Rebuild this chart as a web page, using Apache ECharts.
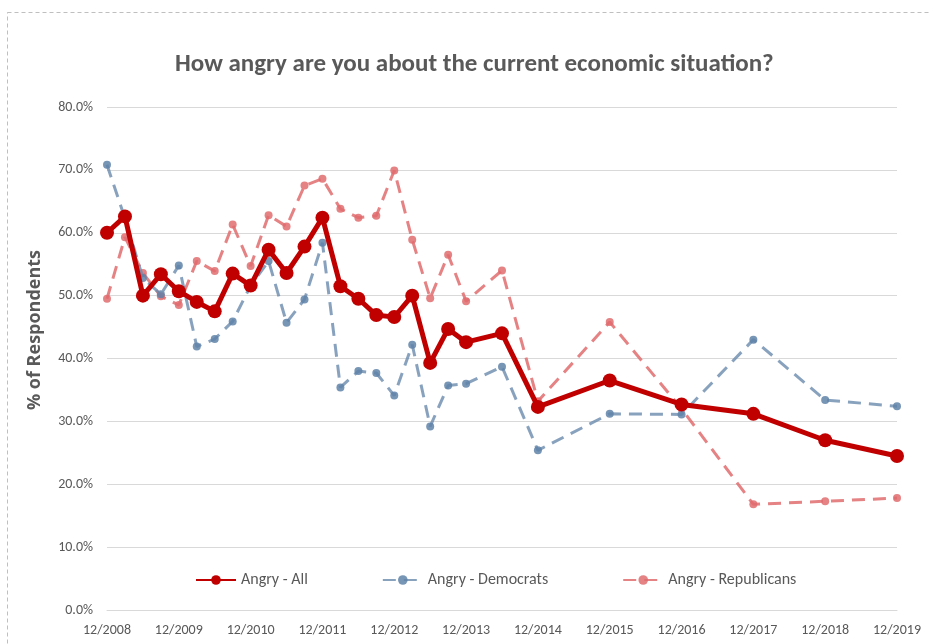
<!DOCTYPE html>
<html>
<head>
<meta charset="utf-8">
<script src="https://cdn.jsdelivr.net/npm/echarts@6/dist/echarts.min.js"></script>
<style>
  html, body { margin: 0; padding: 0; background: #fff; }
  #chart { width: 930px; height: 644px; }
</style>
</head>
<body>
<div id="chart"></div>
<script>
// Survey dates (year-month), quarterly through 2013, then sparser
const surveyDates = [
  '2008-12', '2009-03', '2009-06', '2009-09', '2009-12',
  '2010-03', '2010-06', '2010-09', '2010-12',
  '2011-03', '2011-06', '2011-09', '2011-12',
  '2012-03', '2012-06', '2012-09', '2012-12',
  '2013-03', '2013-06', '2013-09', '2013-12',
  '2014-06', '2014-12', '2015-12', '2016-12', '2017-12', '2018-12', '2019-12'
];

// Share of respondents who are angry (%)
const angryAll = [
  60.0, 62.6, 50.0, 53.4, 50.7, 49.0, 47.5, 53.5, 51.6, 57.3, 53.6, 57.8, 62.4, 51.5,
  49.5, 46.9, 46.6, 50.0, 39.3, 44.7, 42.6, 44.0, 32.3, 36.5, 32.7, 31.2, 27.0, 24.5
];
const angryDemocrats = [
  70.8, 62.3, 52.8, 50.2, 54.8, 41.9, 43.1, 45.9, 51.6, 55.5, 45.7, 49.4, 58.4, 35.4,
  38.0, 37.7, 34.1, 42.2, 29.2, 35.7, 36.0, 38.7, 25.4, 31.2, 31.1, 43.0, 33.4, 32.4
];
const angryRepublicans = [
  49.5, 59.3, 53.6, 49.9, 48.5, 55.5, 53.9, 61.3, 54.7, 62.8, 61.0, 67.5, 68.6, 63.8,
  62.4, 62.7, 69.9, 58.9, 49.6, 56.5, 49.1, 54.0, 33.2, 45.8, 32.0, 16.8, 17.3, 17.8
];

const seriesNames = ['Angry - All', 'Angry - Democrats', 'Angry - Republicans'];
const yAxisTitle = '% of Respondents';

// Months elapsed since December 2008, used as the x value
const START_YEAR = 2008, START_MONTH = 12;
function monthsSinceStart(ym) {
  const [y, m] = ym.split('-').map(Number);
  return (y - START_YEAR) * 12 + (m - START_MONTH);
}
function pairs(values) {
  return values.map((v, i) => [monthsSinceStart(surveyDates[i]), v]);
}

const FONT = 'Carlito, "Liberation Sans Narrow", "Open Sans", sans-serif';
const TEXT = '#595959';

const chart = echarts.init(document.getElementById('chart'), null, { renderer: 'canvas' });

chart.setOption({
  backgroundColor: '#ffffff',
  animation: false,
  textStyle: { fontFamily: FONT },
  title: {
    text: 'How angry are you about the current economic situation?',
    left: 170,
    top: 47,
    textStyle: { fontFamily: FONT, fontSize: 25, fontWeight: 'bold', color: TEXT }
  },
  graphic: [
    {
      type: 'rect',
      shape: { x: 7.5, y: 12.5, width: 940, height: 660 },
      style: { fill: 'none', stroke: '#bfbfbf', lineWidth: 1, lineDash: [4, 3] },
      silent: true
    },
    {
      type: 'text',
      x: 35,
      y: 330,
      rotation: Math.PI / 2,
      style: {
        text: yAxisTitle,
        fill: TEXT,
        font: 'bold 18px "Open Sans", sans-serif',
        align: 'center',
        verticalAlign: 'middle'
      },
      silent: true
    }
  ],
  grid: { left: 107, right: 33, top: 107, bottom: 34, containLabel: false },
  legend: {
    data: seriesNames,
    top: 567,
    left: 190,
    itemGap: 74,
    itemWidth: 40,
    itemHeight: 12,
    textStyle: { fontFamily: FONT, fontSize: 16, color: TEXT }
  },
  xAxis: {
    type: 'value',
    min: 0,
    max: 132,
    interval: 12,
    axisLine: { show: true, lineStyle: { color: '#d9d9d9' } },
    axisTick: { show: false },
    splitLine: { show: false },
    axisLabel: {
      color: TEXT,
      fontSize: 14,
      margin: 13,
      formatter: v => '12/' + (START_YEAR + v / 12)
    }
  },
  yAxis: {
    type: 'value',
    min: 0,
    max: 80,
    interval: 10,
    axisLine: { show: false },
    axisTick: { show: false },
    splitLine: { lineStyle: { color: '#d9d9d9', width: 1 } },
    axisLabel: {
      color: TEXT,
      fontSize: 14,
      margin: 14,
      formatter: v => v.toFixed(1) + '%'
    }
  },
  series: [
    {
      name: seriesNames[2],
      type: 'line',
      data: pairs(angryRepublicans),
      symbol: 'circle',
      symbolSize: 8,
      z: 2,
      lineStyle: { color: '#e06c6e', width: 3, type: [13, 8], opacity: 0.85 },
      itemStyle: { color: '#e06c6e', opacity: 0.85 }
    },
    {
      name: seriesNames[1],
      type: 'line',
      data: pairs(angryDemocrats),
      symbol: 'circle',
      symbolSize: 8,
      z: 3,
      lineStyle: { color: '#6a8bae', width: 3, type: [13, 8], opacity: 0.8 },
      itemStyle: { color: '#5f82a8', opacity: 0.85 }
    },
    {
      name: seriesNames[0],
      type: 'line',
      data: pairs(angryAll),
      symbol: 'circle',
      symbolSize: 14,
      z: 4,
      lineStyle: { color: '#c00000', width: 5 },
      itemStyle: { color: '#c00000' }
    }
  ]
});
</script>
</body>
</html>
